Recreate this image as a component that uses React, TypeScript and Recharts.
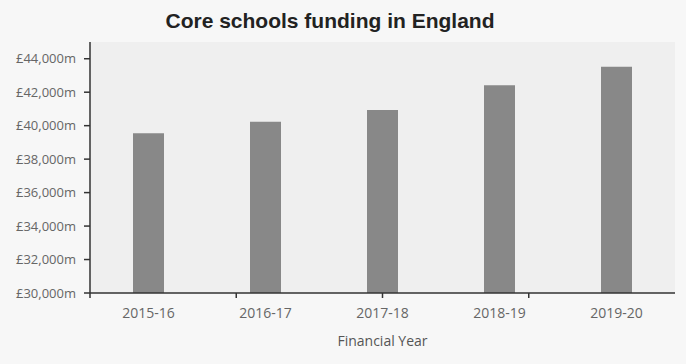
import { Bar, BarChart, CartesianGrid, Label, XAxis, YAxis } from 'recharts';

const years = ['2015-16', '2016-17', '2017-18', '2018-19', '2019-20'];
const funding = [39550, 40230, 40930, 42420, 43520];
const yTicks = [30000, 32000, 34000, 36000, 38000, 40000, 42000, 44000];
const edgeTicks = [0, 1, 2, 3, 4, 5];

const data = years.map((year, i) => ({ year, funding: funding[i] }));

const formatMoney = (v: number) => `£${v.toLocaleString('en-GB')}m`;

// boundary ticks only, no labels
const EmptyTick = () => <g />;

export default function App() {
  return (
    <div style={{ position: 'absolute', top: 0, left: 0, width: 686, height: 364, background: '#f7f7f7' }}>
      <div
        style={{
          position: 'absolute',
          top: 9,
          left: 130,
          width: 400,
          textAlign: 'center',
          fontFamily: '"Liberation Sans", Arial, sans-serif',
          fontWeight: 700,
          fontSize: 21,
          lineHeight: '24px',
          color: '#222',
        }}
      >
        Core schools funding in England
      </div>
      <BarChart
        width={686}
        height={364}
        data={data}
        margin={{ top: 42, right: 11, bottom: 0, left: 0 }}
        style={{ fontFamily: '"Open Sans", sans-serif' }}
      >
        <CartesianGrid xAxisId={1} horizontal={false} vertical={false} fill="#efefef" />
        <XAxis
          xAxisId={0}
          type="number"
          domain={[0, 5]}
          ticks={edgeTicks}
          height={1}
          tick={EmptyTick}
          tickSize={5}
          stroke="#333"
          strokeWidth={1.5}
        />
        <XAxis
          xAxisId={1}
          dataKey="year"
          height={70}
          axisLine={false}
          tickLine={false}
          tickSize={0}
          tickMargin={14}
          tick={{ fontSize: 14, fill: '#666' }}
        >
          <Label value="Financial Year" position="insideBottom" offset={18} fill="#555" fontSize={14} />
        </XAxis>
        <YAxis
          width={90}
          domain={[30000, 45000]}
          ticks={yTicks}
          tickFormatter={formatMoney}
          tickSize={6}
          tickMargin={8}
          stroke="#333"
          strokeWidth={1.5}
          tick={{ fontSize: 13, fill: '#666' }}
          allowDataOverflow
        />
        <Bar xAxisId={1} dataKey="funding" fill="#888888" barSize={31} isAnimationActive={false} />
      </BarChart>
    </div>
  );
}
